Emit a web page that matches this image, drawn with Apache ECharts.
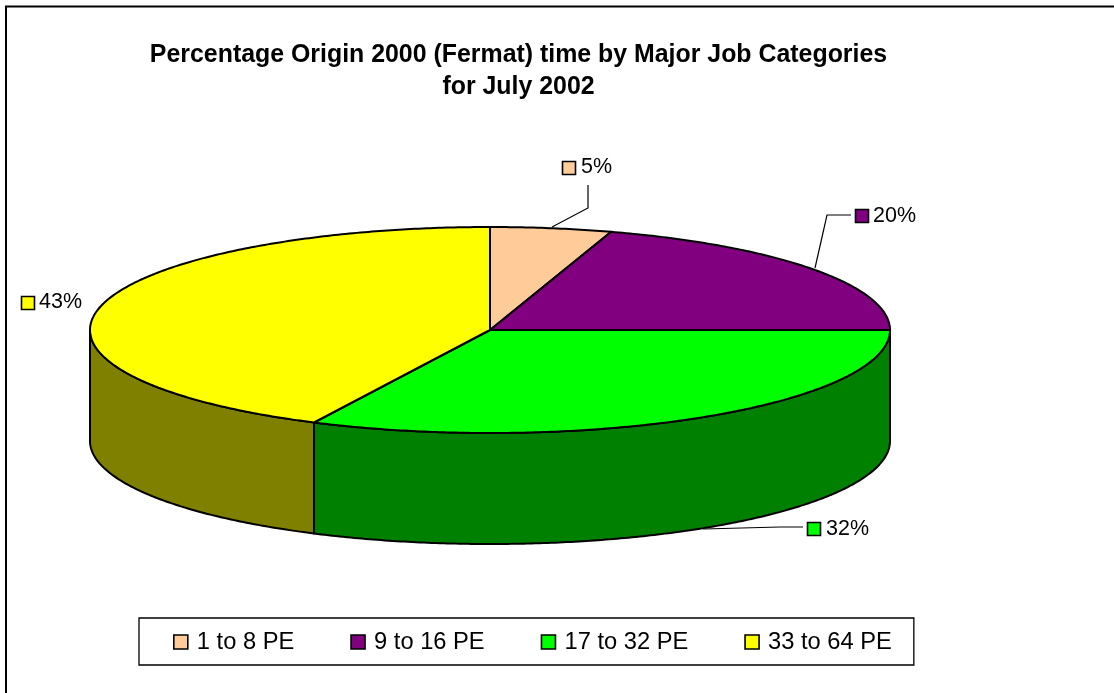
<!DOCTYPE html>
<html><head><meta charset="utf-8">
<style>html,body{margin:0;padding:0;background:#fff}#c{width:1114px;height:693px}</style>
<script src="https://cdn.jsdelivr.net/npm/echarts@6/dist/echarts.min.js"></script>
</head><body><div id="c"></div>
<script>
const categories = ['1 to 8 PE', '9 to 16 PE', '17 to 32 PE', '33 to 64 PE'];
const values = [4.9, 20.1, 32.25, 42.75];
const titleLines = ['Percentage Origin 2000 (Fermat) time by Major Job Categories', 'for July 2002'];
const topColors = ['#FFCC99', '#800080', '#00FF00', '#FFFF00'];
const sideColors = ['#CCA37A', '#400040', '#008000', '#808000'];

// layout of the projected pie and of the outside labels
const pie = { cx: 490, cy: 330, rx: 400, ry: 103, depth: 111 };
const labelBoxes = [
  { box: [562, 161], text: [581, 167], leader: [[552, 227], [588, 208], [588, 185]] },
  { box: [855, 209], text: [873, 216], leader: [[815, 268], [827, 215], [851, 215]] },
  { box: [807, 522], text: [826, 529], leader: [[703, 529], [780, 527], [803, 527]] },
  { box: [21, 296], text: [39, 302], leader: null }
];
const FONT = '"Liberation Sans", Arial, sans-serif';
const total = values.reduce((a, b) => a + b, 0);
const toAngle = v => v / total * 2 * Math.PI;
const pt = (a, dy) => [pie.cx + pie.rx * Math.sin(a), pie.cy - pie.ry * Math.cos(a) + (dy || 0)];
function arc(a0, a1, dy) {
  const n = Math.max(2, Math.ceil((a1 - a0) / 0.01));
  const out = [];
  for (let i = 0; i <= n; i++) out.push(pt(a0 + (a1 - a0) * i / n, dy));
  return out;
}
function renderSlice(i) {
  return function () {
    const before = values.slice(0, i).reduce((a, b) => a + b, 0);
    const a0 = toAngle(before), a1 = toAngle(before + values[i]);
    const children = [];
    const s0 = Math.max(a0, Math.PI / 2), s1 = Math.min(a1, Math.PI * 1.5);
    if (s1 > s0) {
      children.push({
        type: 'polygon', silent: true,
        shape: { points: arc(s0, s1, 0).concat(arc(s0, s1, pie.depth).reverse()) },
        style: { fill: sideColors[i], stroke: '#000', lineWidth: 2, lineJoin: 'round' }
      });
    }
    children.push({
      type: 'polygon', silent: true,
      shape: { points: [[pie.cx, pie.cy]].concat(arc(a0, a1, 0)) },
      style: { fill: topColors[i], stroke: '#000', lineWidth: 2, lineJoin: 'round' }
    });
    const lb = labelBoxes[i];
    if (lb.leader) children.push({
      type: 'polyline', silent: true, shape: { points: lb.leader },
      style: { fill: null, stroke: '#000', lineWidth: 1.2 }
    });
    children.push({
      type: 'rect', silent: true,
      shape: { x: lb.box[0] + 0.5, y: lb.box[1] + 0.5, width: 13, height: 13 },
      style: { fill: topColors[i], stroke: '#000', lineWidth: 1.6 }
    });
    children.push({
      type: 'text', silent: true,
      style: { text: Math.round(values[i]) + '%', x: lb.text[0], y: lb.text[1], font: '21.5px ' + FONT, fill: '#000', textAlign: 'left', textVerticalAlign: 'middle', verticalAlign: 'middle' }
    });
    return { type: 'group', children };
  };
}
const chart = echarts.init(document.getElementById('c'), null, { renderer: 'canvas' });
chart.setOption({
  animation: false,
  backgroundColor: '#fff',
  title: {
    text: titleLines.join('\n'), left: 513.5, top: 34, textAlign: 'center',
    textStyle: { fontFamily: FONT, fontWeight: 'bold', fontSize: 24.9, lineHeight: 32, color: '#000' }
  },
  legend: {
    left: 139, top: 618, orient: 'horizontal', icon: 'rect',
    padding: [12, 22, 11, 34],
    itemWidth: 14, itemHeight: 14, itemGap: 56,
    borderColor: '#000', borderWidth: 1.3, backgroundColor: '#fff',
    selectedMode: false,
    itemStyle: { borderColor: '#000', borderWidth: 1.6 },
    textStyle: { fontFamily: FONT, fontSize: 23.7, color: '#000', padding: [3, 0, 0, 4] },
    data: categories
  },
  graphic: [{
    type: 'polyline', silent: true,
    shape: { points: [[6, 693], [6, 6.5], [1114, 6.5]] },
    style: { fill: null, stroke: '#000', lineWidth: 2 }
  }],
  series: categories.map((name, i) => ({
    type: 'custom', name, coordinateSystem: 'none',
    itemStyle: { color: topColors[i] },
    renderItem: renderSlice(i),
    data: [[values[i]]]
  }))
});
</script></body></html>
